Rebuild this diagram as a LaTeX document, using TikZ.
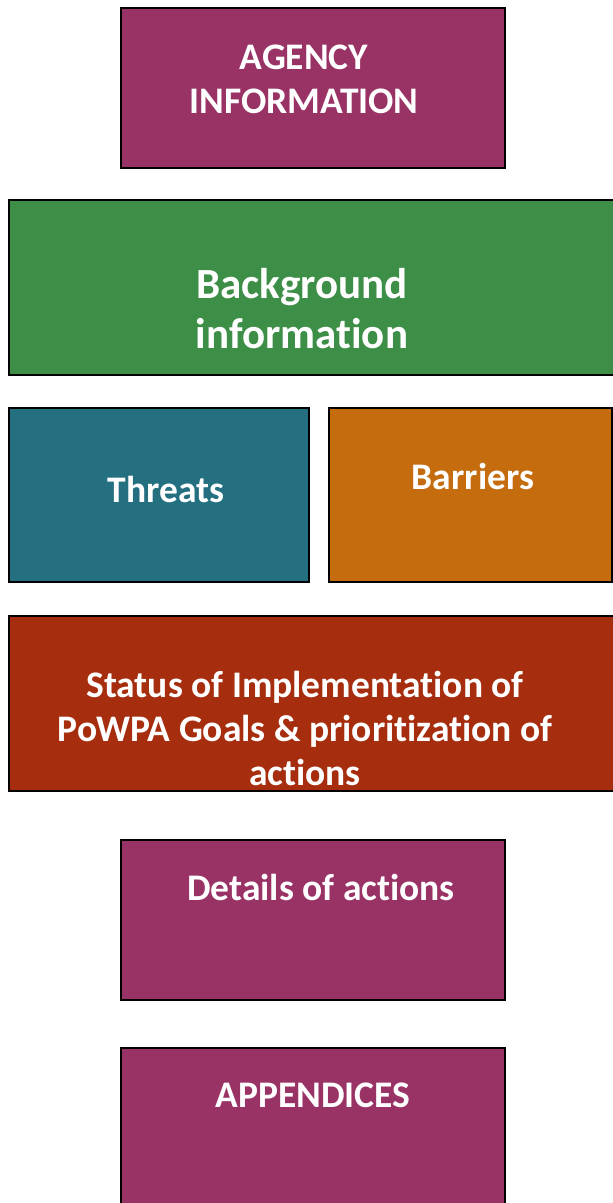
\documentclass[tikz,border=0pt]{standalone}
\usepackage{fontspec}
\setmainfont{Carlito}[Ligatures = {NoCommon, NoContextual}, RawFeature = {-liga;-clig;-calt;-dlig}]
\usepackage{xcolor}
\usetikzlibrary{positioning}

\definecolor{plumbox}{RGB}{153,51,102}
\definecolor{greenbox}{RGB}{61,143,72}
\definecolor{tealbox}{RGB}{36,112,129}
\definecolor{orangebox}{RGB}{196,108,14}
\definecolor{rustbox}{RGB}{166,46,14}

\tikzset{
	block/.style = {draw = black, line width = 2.5pt, rectangle, inner sep = 0pt},
	blocktext/.style = {text = white, font = \fontsize{37.5}{44}\selectfont\bfseries, align = center}
}

\begin{document}
\begin{tikzpicture}[x = 1pt, y = -1pt]
		%frame of the page
		\useasboundingbox (0,0) rectangle (613,1203);
		\clip (0,0) rectangle (613,1203);
		
		%boxes
		\node [block, fill = plumbox, minimum width = 384pt, minimum height = 160pt] (agency) at (313,88) {};
		\node [block, fill = greenbox, minimum width = 620pt, minimum height = 175pt] (background) at (319,287.5) {};
		\node [block, fill = tealbox, minimum width = 300pt, minimum height = 174pt] (threats) at (159,495) {};
		\node [block, fill = orangebox, minimum width = 283pt, minimum height = 174pt] (barriers) at (470.5,495) {};
		\node [block, fill = rustbox, minimum width = 620pt, minimum height = 175pt] (status) at (319,703.5) {};
		\node [block, fill = plumbox, minimum width = 384pt, minimum height = 160pt] (details) at (313,920) {};
		\node [block, fill = plumbox, minimum width = 384pt, minimum height = 170pt] (appendices) at (313,1133) {};
		
		%texts
		\node [blocktext] (agencytext) at (304,79) {AGENCY\\INFORMATION};
		\node [blocktext, font = \fontsize{43}{50}\selectfont\bfseries] (backgroundtext) at (302,309) {Background\\information};
		\node [blocktext] (threatstext) at (166,489) {Threats};
		\node [blocktext] (barrierstext) at (473,476) {Barriers};
		\node [blocktext] (statustext) at (305,728) {Status of Implementation of\\PoWPA Goals \& prioritization of\\actions};
		\node [blocktext] (detailstext) at (321,887) {Details of actions};
		\node [blocktext] (appendicestext) at (313,1095) {APPENDICES};
	\end{tikzpicture}
\end{document}
